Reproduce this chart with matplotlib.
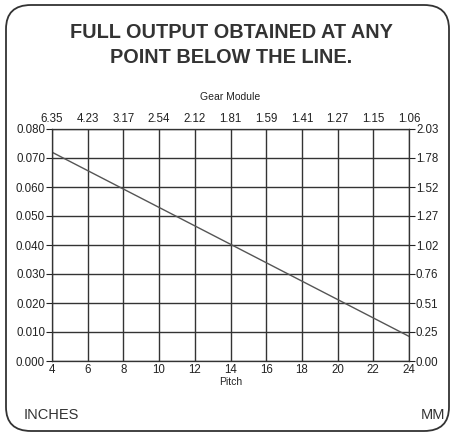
import matplotlib
matplotlib.use("Agg")
import matplotlib.pyplot as plt
from matplotlib.patches import FancyBboxPatch

# Data
pitch = [4, 24]
max_inches = [0.072, 0.0085]
pitch_ticks = [4, 6, 8, 10, 12, 14, 16, 18, 20, 22, 24]
module_labels = ["6.35", "4.23", "3.17", "2.54", "2.12", "1.81", "1.59", "1.41", "1.27", "1.15", "1.06"]
inch_ticks = [0.000, 0.010, 0.020, 0.030, 0.040, 0.050, 0.060, 0.070, 0.080]
inch_labels = ["0.000", "0.010", "0.020", "0.030", "0.040", "0.050", "0.060", "0.070", "0.080"]
mm_labels = ["0.00", "0.25", "0.51", "0.76", "1.02", "1.27", "1.52", "1.78", "2.03"]

plt.rcParams['font.family'] = ['Liberation Sans', 'DejaVu Sans']
fig = plt.figure(figsize=(4.54, 4.36), dpi=100)

# rounded border
box = FancyBboxPatch((6/454, 5/436), 443/454, 426/436,
                     boxstyle="round,pad=0,rounding_size=0.055",
                     transform=fig.transFigure, fill=False, edgecolor="#333333", lw=1.3)
fig.patches.append(box)

ax = fig.add_axes([52/454, 75/436, 357/454, 232/436])
ax.plot(pitch, max_inches, color="#555555", lw=1.0)
ax.set_xlim(4, 24)
ax.set_ylim(0, 0.080)
ax.set_xticks(pitch_ticks)
ax.set_xticklabels([str(p) for p in pitch_ticks])
ax.set_yticks(inch_ticks)
ax.set_yticklabels(inch_labels)
ax.grid(True, color="#333333", lw=1.0)
for s in ax.spines.values():
    s.set_color("#333333")
ax.tick_params(axis='x', length=0, labelsize=8.3, pad=2, colors="#222222")
ax.tick_params(axis='y', length=4, labelsize=8.3, pad=1, colors="#222222")
ax.set_xlabel("Pitch", fontsize=7.5, labelpad=1, color="#222222")

ax2 = ax.twinx()
ax2.set_ylim(0, 0.080)
ax2.set_yticks(inch_ticks)
ax2.set_yticklabels(mm_labels)
ax2.tick_params(axis='y', length=4, labelsize=8.3, pad=1, colors="#222222")

ax3 = ax.twiny()
ax3.set_xlim(4, 24)
ax3.set_xticks(pitch_ticks)
ax3.set_xticklabels(module_labels)
ax3.tick_params(axis='x', length=0, labelsize=8.3, pad=3, colors="#222222")
ax3.set_xlabel("Gear Module", fontsize=7.5, labelpad=9, color="#222222")
for a in (ax2, ax3):
    for s in a.spines.values():
        s.set_color("#333333")

fig.text(231/454, 1 - 32/436, "FULL OUTPUT OBTAINED AT ANY", ha='center', va='center',
         fontsize=14.3, fontweight='bold', color="#333333")
fig.text(231/454, 1 - 57/436, "POINT BELOW THE LINE.", ha='center', va='center',
         fontsize=14.3, fontweight='bold', color="#333333")
fig.text(24/454, 1 - 415/436, "INCHES", ha='left', va='center', fontsize=10.5, color="#333333")
fig.text(445/454, 1 - 415/436, "MM", ha='right', va='center', fontsize=10.5, color="#333333")

fig.savefig("out.png", dpi=100)
